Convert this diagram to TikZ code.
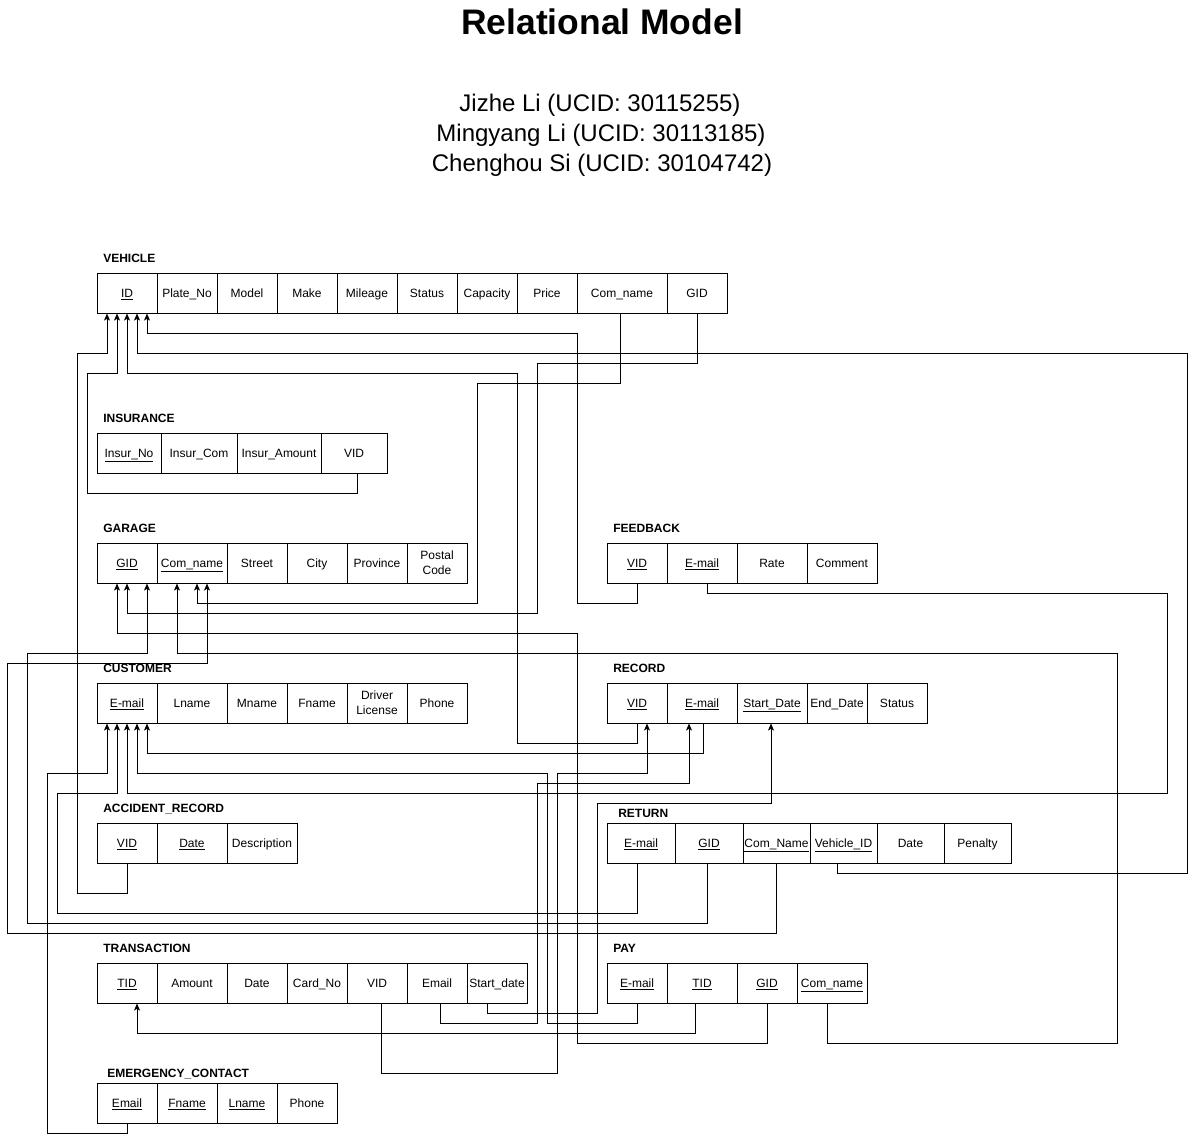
\documentclass[tikz,border=0pt]{standalone}
\usepackage{fontspec}
\setmainfont{Liberation Sans}
\usetikzlibrary{arrows.meta,calc}
\newcommand{\cellnode}[5]{\node[cell, minimum width={(#3-#2)*0.75pt}] (#1) at ({(#2+#3)/2},{#4+20}) {#5};}
\newcommand{\twocell}[5]{\node[cell, text height=, text depth=, minimum width={(#3-#2)*0.75pt}] (#1) at ({(#2+#3)/2},{#4+20}) {#5};}
\begin{document}
\begin{tikzpicture}[x=0.75pt,y=-0.75pt,
  cell/.style={draw, line width=0.75pt, minimum height=30pt, inner sep=0pt, align=center, text height=7.5pt, text depth=1.5pt, font=\fontsize{9}{11.25}\selectfont},
  tlabel/.style={anchor=base west, inner sep=0pt, font=\bfseries\fontsize{9}{11}\selectfont},
  fk/.style={line width=0.75pt, -{Stealth[length=5.3pt,width=4.5pt,inset=1.3pt]}}]
\fill[white] (0,0) rectangle (1197,1142);
\useasboundingbox (0,0) rectangle (1197,1142);

% title
\node[font=\bfseries\fontsize{26.6}{30}\selectfont, anchor=base, inner sep=0pt] (title) at (602,34) {Relational Model};
\node[font=\fontsize{18}{22.5}\selectfont, anchor=base, inner sep=0pt] (au1) at (600,111) {Jizhe Li (UCID: 30115255)};
\node[font=\fontsize{18}{22.5}\selectfont, anchor=base, inner sep=0pt] (au2) at (601,141) {Mingyang Li (UCID: 30113185)};
\node[font=\fontsize{18}{22.5}\selectfont, anchor=base, inner sep=0pt] (au3) at (602,171) {Chenghou Si (UCID: 30104742)};

% table labels
\node[tlabel] (l-veh) at (103,262) {VEHICLE};
\node[tlabel] (l-ins) at (103,422) {INSURANCE};
\node[tlabel] (l-gar) at (103,532) {GARAGE};
\node[tlabel] (l-fb) at (613,532) {FEEDBACK};
\node[tlabel] (l-cus) at (103,672) {CUSTOMER};
\node[tlabel] (l-rec) at (613,672) {RECORD};
\node[tlabel] (l-acc) at (103,812) {ACCIDENT\_RECORD};
\node[tlabel] (l-ret) at (618,817) {RETURN};
\node[tlabel] (l-tra) at (103,952) {TRANSACTION};
\node[tlabel] (l-pay) at (613,952) {PAY};
\node[tlabel] (l-eme) at (107,1077) {EMERGENCY\_CONTACT};

% VEHICLE
\cellnode{v-id}{97}{157}{273}{\underline{ID}}
\cellnode{v-plate}{157}{217}{273}{Plate\_No}
\cellnode{v-model}{217}{277}{273}{Model}
\cellnode{v-make}{277}{337}{273}{Make}
\cellnode{v-mileage}{337}{397}{273}{Mileage}
\cellnode{v-status}{397}{457}{273}{Status}
\cellnode{v-cap}{457}{517}{273}{Capacity}
\cellnode{v-price}{517}{577}{273}{Price}
\cellnode{v-com}{577}{667}{273}{Com\_name}
\cellnode{v-gid}{667}{727}{273}{GID}

% INSURANCE
\cellnode{i-no}{97}{161}{433}{\underline{Insur\_No}}
\cellnode{i-com}{161}{237}{433}{Insur\_Com}
\cellnode{i-amt}{237}{321}{433}{Insur\_Amount}
\cellnode{i-vid}{321}{387}{433}{VID}

% GARAGE
\cellnode{g-gid}{97}{157}{543}{\underline{GID}}
\cellnode{g-com}{157}{227}{543}{\underline{Com\_name}}
\cellnode{g-street}{227}{287}{543}{Street}
\cellnode{g-city}{287}{347}{543}{City}
\cellnode{g-prov}{347}{407}{543}{Province}
\twocell{g-postal}{407}{467}{543}{Postal\\Code}

% FEEDBACK
\cellnode{f-vid}{607}{667}{543}{\underline{VID}}
\cellnode{f-email}{667}{737}{543}{\underline{E-mail}}
\cellnode{f-rate}{737}{807}{543}{Rate}
\cellnode{f-comment}{807}{877}{543}{Comment}

% CUSTOMER
\cellnode{c-email}{97}{157}{683}{\underline{E-mail}}
\cellnode{c-lname}{157}{227}{683}{Lname}
\cellnode{c-mname}{227}{287}{683}{Mname}
\cellnode{c-fname}{287}{347}{683}{Fname}
\twocell{c-dl}{347}{407}{683}{Driver\\License}
\cellnode{c-phone}{407}{467}{683}{Phone}

% RECORD
\cellnode{r-vid}{607}{667}{683}{\underline{VID}}
\cellnode{r-email}{667}{737}{683}{\underline{E-mail}}
\cellnode{r-start}{737}{807}{683}{\underline{Start\_Date}}
\cellnode{r-end}{807}{867}{683}{End\_Date}
\cellnode{r-status}{867}{927}{683}{Status}

% ACCIDENT_RECORD
\cellnode{a-vid}{97}{157}{823}{\underline{VID}}
\cellnode{a-date}{157}{227}{823}{\underline{Date}}
\cellnode{a-desc}{227}{297}{823}{Description}

% RETURN
\cellnode{rt-email}{607}{675}{823}{\underline{E-mail}}
\cellnode{rt-gid}{675}{743}{823}{\underline{GID}}
\cellnode{rt-com}{743}{810}{823}{\underline{Com\_Name}}
\cellnode{rt-vid}{810}{877}{823}{\underline{Vehicle\_ID}}
\cellnode{rt-date}{877}{944}{823}{Date}
\cellnode{rt-pen}{944}{1011}{823}{Penalty}

% TRANSACTION
\cellnode{t-tid}{97}{157}{963}{\underline{TID}}
\cellnode{t-amt}{157}{227}{963}{Amount}
\cellnode{t-date}{227}{287}{963}{Date}
\cellnode{t-card}{287}{347}{963}{Card\_No}
\cellnode{t-vid}{347}{407}{963}{VID}
\cellnode{t-email}{407}{467}{963}{Email}
\cellnode{t-start}{467}{527}{963}{Start\_date}

% PAY
\cellnode{p-email}{607}{667}{963}{\underline{E-mail}}
\cellnode{p-tid}{667}{737}{963}{\underline{TID}}
\cellnode{p-gid}{737}{797}{963}{\underline{GID}}
\cellnode{p-com}{797}{867}{963}{\underline{Com\_name}}

% EMERGENCY_CONTACT
\cellnode{e-email}{97}{157}{1083}{\underline{Email}}
\cellnode{e-fname}{157}{217}{1083}{\underline{Fname}}
\cellnode{e-lname}{217}{277}{1083}{\underline{Lname}}
\cellnode{e-phone}{277}{337}{1083}{Phone}

% connectors to VEHICLE.ID
\draw[fk] (a-vid.south) -- ++(0,30) -| (77,353) -| ($(v-id.south)+(-20,0)$);
\draw[fk] ($(i-vid.south)+(3,0)$) -- ++(0,20) -| (87,373) -| ($(v-id.south)+(-10,0)$);
\draw[fk] (r-vid.south) -- ++(0,20) -| (517,373) -| (v-id.south);
\draw[fk] ($(rt-vid.south)+(-6.5,0)$) -- ++(0,10) -| (1187,353) -| ($(v-id.south)+(10,0)$);
\draw[fk] (f-vid.south) -- ++(0,20) -| (577,333) -| ($(v-id.south)+(20,0)$);

% connectors to GARAGE
\draw[fk] ($(v-com.south)+(-2,0)$) -- ++(0,70) -| (477,603) -| ($(g-com.south)+(5,0)$);
\draw[fk] (v-gid.south) -- ++(0,50) -| (537,613) -| (g-gid.south);
\draw[fk] (p-gid.south) -- ++(0,40) -| (577,633) -| ($(g-gid.south)+(-10,0)$);
\draw[fk] ($(rt-gid.south)+(-2,0)$) -- ++(0,60) -| (27,653) -| ($(g-gid.south)+(20,0)$);
\draw[fk] ($(p-com.south)+(-5,0)$) -- ++(0,40) -| (1117,653) -| ($(g-com.south)+(-15,0)$);
\draw[fk] (rt-com.south) -- ++(0,70) -| (7,663) -| ($(g-com.south)+(15,0)$);

% connectors to CUSTOMER.E-mail
\draw[fk] (e-email.south) -- ++(0,10) -| (47,773) -| ($(c-email.south)+(-20,0)$);
\draw[fk] ($(rt-email.south)+(-4,0)$) -- ++(0,50) -| (57,793) -| ($(c-email.south)+(-10,0)$);
\draw[fk] ($(f-email.south)+(5,0)$) -- ++(0,10) -| (1167,793) -| (c-email.south);
\draw[fk] (p-email.south) -- ++(0,20) -| (547,773) -| ($(c-email.south)+(10,0)$);
\draw[fk] ($(r-email.south)+(1,0)$) -- ++(0,30) -| ($(c-email.south)+(20,0)$);

% connectors to RECORD
\draw[fk] ($(t-email.south)+(3,0)$) -- ++(0,20) -| (537,783) -| ($(r-email.south)+(-13,0)$);
\draw[fk] ($(t-start.south)+(-10,0)$) -- ++(0,10) -| (597,803) -| ($(r-start.south)+(-1,0)$);
\draw[fk] ($(t-vid.south)+(4,0)$) -- ++(0,70) -| (557,773) -| ($(r-vid.south)+(10,0)$);

% connector to TRANSACTION.TID
\draw[fk] ($(p-tid.south)+(-7,0)$) -- ++(0,30) -| ($(t-tid.south)+(10,0)$);
\end{tikzpicture}
\end{document}
